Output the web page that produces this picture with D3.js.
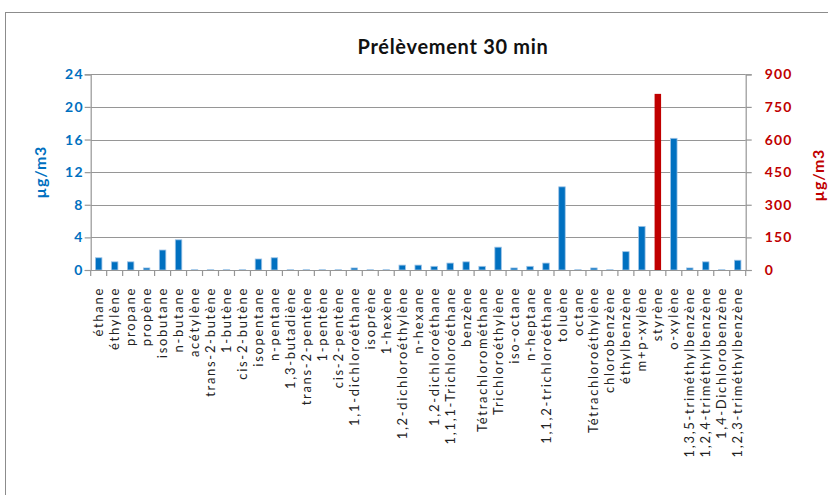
<!DOCTYPE html>
<html>
<head>
<meta charset="utf-8">
<script src="https://cdn.jsdelivr.net/npm/d3@7"></script>
<style>
  html, body { margin: 0; padding: 0; background: #fff; }
  svg { display: block; }
</style>
</head>
<body>
<svg id="chart" width="828" height="495"></svg>
<script>
// Compounds measured over the 30-minute sample
const categories = [
  "éthane", "éthylène", "propane", "propène", "isobutane", "n-butane", "acétylène",
  "trans-2-butène", "1-butène", "cis-2-butène", "isopentane", "n-pentane",
  "1,3-butadiène", "trans-2-pentène", "1-pentène", "cis-2-pentène",
  "1,1-dichloroéthane", "isoprène", "1-hexène", "1,2-dichloroéthylène", "n-hexane",
  "1,2-dichloroéthane", "1,1,1-Trichloroéthane", "benzène", "Tétrachlorométhane",
  "Trichloroéthylène", "iso-octane", "n-heptane", "1,1,2-trichloroéthane", "toluène",
  "octane", "Tétrachloroéthylène", "chlorobenzène", "éthylbenzène", "m+p-xylène",
  "styrène", "o-xylène", "1,3,5-triméthylbenzène", "1,2,4-triméthylbenzène",
  "1,4-Dichlorobenzène", "1,2,3-triméthylbenzène"
];

// Concentrations on the left axis (µg/m3); styrène is plotted on the right axis
const valuesLeft = [
  1.5, 1.0, 1.0, 0.25, 2.45, 3.7, 0.03,
  0.03, 0.03, 0.03, 1.35, 1.5,
  0.03, 0.03, 0.03, 0.03,
  0.25, 0.03, 0.03, 0.6, 0.6,
  0.45, 0.85, 1.0, 0.45,
  2.8, 0.25, 0.45, 0.85, 10.2,
  0.03, 0.25, 0.03, 2.25, 5.35,
  null, 16.15, 0.25, 1.0,
  0.03, 1.2
];

// Concentrations on the right axis (µg/m3)
const valuesRight = [
  null, null, null, null, null, null, null,
  null, null, null, null, null,
  null, null, null, null,
  null, null, null, null, null,
  null, null, null, null,
  null, null, null, null, null,
  null, null, null, null, null,
  810, null, null, null,
  null, null
];

const ticksLeft = [0, 4, 8, 12, 16, 20, 24];
const ticksRight = [0, 150, 300, 450, 600, 750, 900];
const titleText = "Prélèvement 30 min";
const unitText = "µg/m3";

const BLUE = "#0070C0", BLUE_EDGE = "#9DC3E6", RED = "#C00000", GRID = "#969696";
const FONT = "Lato, 'Open Sans', sans-serif";

const svg = d3.select("#chart");
const plot = { left: 90.7, right: 745.7, top: 74.3, bottom: 270 };

// Chart frame
svg.append("rect")
  .attr("x", 5.5).attr("y", 12.5)
  .attr("width", 840).attr("height", 500)
  .attr("fill", "none").attr("stroke", "#8c8c8c").attr("stroke-width", 1);

const x = d3.scaleBand().domain(categories).range([plot.left, plot.right]).padding(0);
const yL = d3.scaleLinear().domain([0, 24]).range([plot.bottom, plot.top]);
const yR = d3.scaleLinear().domain([0, 900]).range([plot.bottom, plot.top]);

// Horizontal gridlines
svg.append("g").selectAll("line").data(ticksLeft.slice(1)).join("line")
  .attr("x1", plot.left).attr("x2", plot.right)
  .attr("y1", d => Math.round(yL(d)) + 0.5).attr("y2", d => Math.round(yL(d)) + 0.5)
  .attr("stroke", GRID).attr("stroke-width", 1.2);

// Left axis
const gL = svg.append("g").attr("transform", `translate(${plot.left},0)`)
  .call(d3.axisLeft(yL).tickValues(ticksLeft).tickSize(6).tickPadding(1));
gL.select(".domain").attr("stroke", GRID).attr("stroke-width", 1.2);
gL.selectAll(".tick line").attr("stroke", GRID).attr("stroke-width", 1.2);
gL.selectAll(".tick text").attr("fill", BLUE).attr("font-family", FONT)
  .attr("font-weight", "bold").attr("font-size", 14).attr("letter-spacing", 1.2);

// Right axis
const gR = svg.append("g").attr("transform", `translate(${plot.right},0)`)
  .call(d3.axisRight(yR).tickValues(ticksRight).tickSize(6).tickPadding(13));
gR.select(".domain").attr("stroke", GRID).attr("stroke-width", 1.2);
gR.selectAll(".tick line").attr("stroke", GRID).attr("stroke-width", 1.2);
gR.selectAll(".tick text").attr("fill", RED).attr("font-family", FONT)
  .attr("font-weight", "bold").attr("font-size", 14).attr("letter-spacing", 1.2);

// Bars: left series
const barW = 6.5;
svg.append("g").selectAll("rect")
  .data(categories.map((c, i) => ({ c, v: valuesLeft[i] })).filter(d => d.v != null))
  .join("rect")
  .attr("x", d => x(d.c) + x.bandwidth() / 2 - barW / 2)
  .attr("y", d => yL(d.v))
  .attr("width", barW)
  .attr("height", d => yL(0) - yL(d.v))
  .attr("fill", BLUE).attr("stroke", BLUE_EDGE).attr("stroke-width", 0.8);

// Bars: right series
svg.append("g").selectAll("rect")
  .data(categories.map((c, i) => ({ c, v: valuesRight[i] })).filter(d => d.v != null))
  .join("rect")
  .attr("x", d => x(d.c) + x.bandwidth() / 2 - barW / 2)
  .attr("y", d => yR(d.v))
  .attr("width", barW)
  .attr("height", d => yR(0) - yR(d.v))
  .attr("fill", RED);

// Category axis: baseline, tick marks at band edges, rotated labels
svg.append("line")
  .attr("x1", plot.left).attr("x2", plot.right)
  .attr("y1", plot.bottom + 0.5).attr("y2", plot.bottom + 0.5)
  .attr("stroke", GRID).attr("stroke-width", 1.2);
const edges = categories.map(c => x(c)).concat([plot.right]);
svg.append("g").selectAll("line").data(edges).join("line")
  .attr("x1", d => d).attr("x2", d => d)
  .attr("y1", plot.bottom).attr("y2", plot.bottom + 6)
  .attr("stroke", GRID).attr("stroke-width", 1.2);

svg.append("g").selectAll("text").data(categories).join("text")
  .attr("transform", d => `translate(${x(d) + x.bandwidth() / 2},${plot.bottom + 17}) rotate(-90)`)
  .attr("dy", "0.35em")
  .attr("text-anchor", "end")
  .attr("font-family", FONT).attr("font-size", 13)
  .attr("letter-spacing", 1.7)
  .attr("fill", "#222")
  .text(d => d);

// Title
svg.append("text")
  .attr("x", 453).attr("y", 54)
  .attr("text-anchor", "middle")
  .attr("font-family", FONT).attr("font-weight", "bold").attr("font-size", 20)
  .attr("letter-spacing", 0.7)
  .attr("fill", "#111")
  .text(titleText);

// Axis titles
svg.append("text")
  .attr("transform", `translate(46,${(plot.top + plot.bottom) / 2}) rotate(-90)`)
  .attr("text-anchor", "middle")
  .attr("font-family", FONT).attr("font-weight", "bold").attr("font-size", 16)
  .attr("letter-spacing", 0.8)
  .attr("fill", BLUE)
  .text(unitText);

svg.append("text")
  .attr("transform", `translate(824,${(plot.top + plot.bottom) / 2 + 3}) rotate(-90)`)
  .attr("text-anchor", "middle")
  .attr("font-family", FONT).attr("font-weight", "bold").attr("font-size", 16)
  .attr("letter-spacing", 0.8)
  .attr("fill", RED)
  .text(unitText);
</script>
</body>
</html>
